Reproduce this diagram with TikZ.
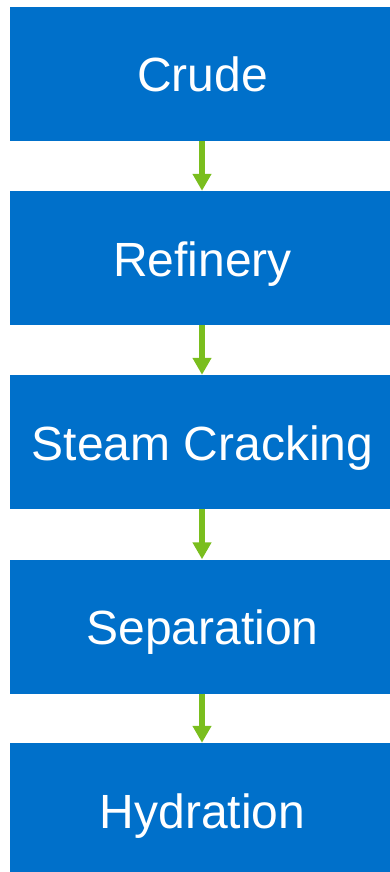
\documentclass[tikz,border=0pt]{standalone}
\usepackage{fontspec}
\setmainfont{Liberation Sans}
\usetikzlibrary{arrows.meta}
\definecolor{boxblue}{RGB}{0,112,202}
\definecolor{arrowgreen}{RGB}{122,190,30}
\tikzset{
  stagebox/.style={fill=boxblue, draw=none, minimum width=380pt, minimum height=134pt, inner sep=0pt, text height=36pt, text depth=0pt, text=white, font=\fontsize{48}{56}\selectfont, execute at begin node={\hspace*{5pt}}},
  flowarrow/.style={draw=arrowgreen, line width=6pt, -{Triangle[width=18pt,length=17pt]}, shorten >=0pt}
}
\begin{document}
\begin{tikzpicture}[x=1pt,y=1pt]
\clip (0,0) rectangle (390,-872);
\useasboundingbox (0,0) rectangle (390,-872);
\node[stagebox] (crude) at (200,-74) {Crude};
\node[stagebox] (refinery) at (200,-258) {Refinery};
\node[stagebox] (steam) at (200,-442) {Steam Cracking};
\node[stagebox] (separation) at (200,-626.5) {Separation};
\node[stagebox] (hydration) at (200,-810) {Hydration};
\draw[flowarrow] ([xshift=2pt]crude.south) -- ([xshift=2pt]refinery.north);
\draw[flowarrow] ([xshift=2pt]refinery.south) -- ([xshift=2pt]steam.north);
\draw[flowarrow] ([xshift=2pt]steam.south) -- ([xshift=2pt]separation.north);
\draw[flowarrow] ([xshift=2pt]separation.south) -- ([xshift=2pt]hydration.north);
\end{tikzpicture}
\end{document}
